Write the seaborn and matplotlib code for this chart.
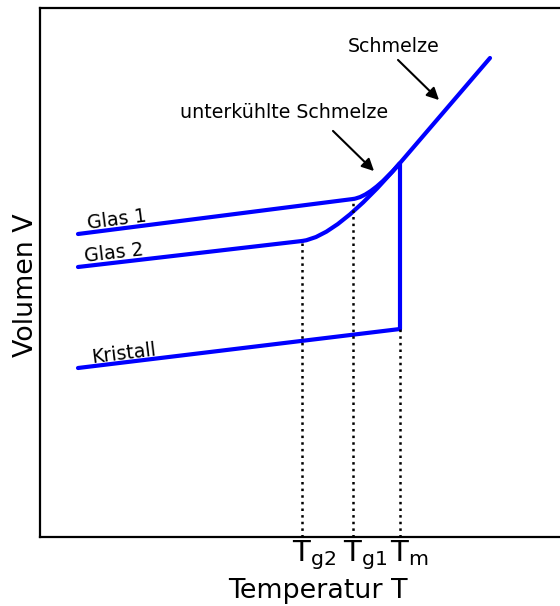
import matplotlib.pyplot as plt
import seaborn as sns
from matplotlib.path import Path
from matplotlib.patches import PathPatch

# characteristic temperatures (arbitrary units)
T_g2 = 262
T_g1 = 313
T_m = 360

# straight branches: temperature / volume end points
kristall_T = [38, 360]
kristall_V = [169, 208]
glas1_T = [38, 313]
glas1_V = [303, 338]
glas2_T = [38, 262]
glas2_V = [270, 296]
schmelze_T = [360, 360, 450]
schmelze_V = [208, 374, 479]

# curved transition into the supercooled melt (start, control, end)
glas1_curve = [(313, 338), (331, 340.3), (360, 374)]
glas2_curve = [(262, 296), (296.5, 300), (360, 374)]

tick_pos = [T_g2, T_g1, T_m]
tick_labels = [r"$\mathregular{T_{g2}}$", r"$\mathregular{T_{g1}}$", r"$\mathregular{T_m}$"]

sns.set_style("white")
plt.rcParams["font.family"] = ["DejaVu Sans"]
plt.rcParams["text.color"] = "black"
plt.rcParams["axes.labelcolor"] = "black"

fig = plt.figure(figsize=(5.6, 6.06), dpi=100)
ax = fig.add_axes([40 / 560, 69 / 606, 520 / 560, 529 / 606])

line_kw = dict(color="blue", lw=3, estimator=None, sort=False, legend=False, ax=ax)
sns.lineplot(x=kristall_T, y=kristall_V, **line_kw)
sns.lineplot(x=glas1_T, y=glas1_V, **line_kw)
sns.lineplot(x=glas2_T, y=glas2_V, **line_kw)
sns.lineplot(x=schmelze_T, y=schmelze_V, **line_kw)

for pts in [glas1_curve, glas2_curve]:
    path = Path(pts, [Path.MOVETO, Path.CURVE3, Path.CURVE3])
    ax.add_patch(PathPatch(path, fill=False, edgecolor="blue", lw=3))

# dotted guides down to the temperature axis
ax.vlines([T_g2, T_g1, T_m], 0, [glas2_V[1], glas1_V[1], kristall_V[1]],
          colors="black", linestyles=":", lw=1.8)

# labels along the branches
ax.text(48, 308, "Glas 1", fontsize=13.7, rotation=7.3, rotation_mode="anchor")
ax.text(45, 275, "Glas 2", fontsize=13.7, rotation=6.6, rotation_mode="anchor")
ax.text(52, 174, "Kristall", fontsize=13.7, rotation=6.9, rotation_mode="anchor")

arrow = dict(arrowstyle="-|>", color="black", lw=1.5, mutation_scale=18)
ax.text(308, 490, "Schmelze", fontsize=13.7, va="center", ha="left")
ax.annotate("", xy=(401, 435), xytext=(356, 479), arrowprops=arrow)
ax.text(140, 425, "unterkühlte Schmelze", fontsize=13.7, va="center", ha="left")
ax.annotate("", xy=(336, 364), xytext=(291, 408), arrowprops=arrow)

ax.set_xlim(0, 520)
ax.set_ylim(0, 529)
ax.set_xticks(tick_pos)
ax.set_xticklabels([])
ax.set_yticks([])
ax.tick_params(axis="x", length=0)
# T glyph centred over each temperature, subscript trailing to the right
for pos, lbl in zip(tick_pos, tick_labels):
    ax.annotate(lbl, xy=(pos, 0), xytext=(-7.5, -1), textcoords="offset points",
                ha="left", va="top", fontsize=21, annotation_clip=False)

ax.set_xlabel("Temperatur T", fontsize=19.4)
ax.xaxis.set_label_coords(0.535, -0.078)
ax.set_ylabel("Volumen V", fontsize=19.4)
ax.yaxis.set_label_coords(-0.002, 0.476)

for side in ["left", "bottom", "top"]:
    ax.spines[side].set_color("black")
    ax.spines[side].set_linewidth(1.6)
ax.spines["right"].set_visible(False)

fig.savefig("out.png", dpi=100)
